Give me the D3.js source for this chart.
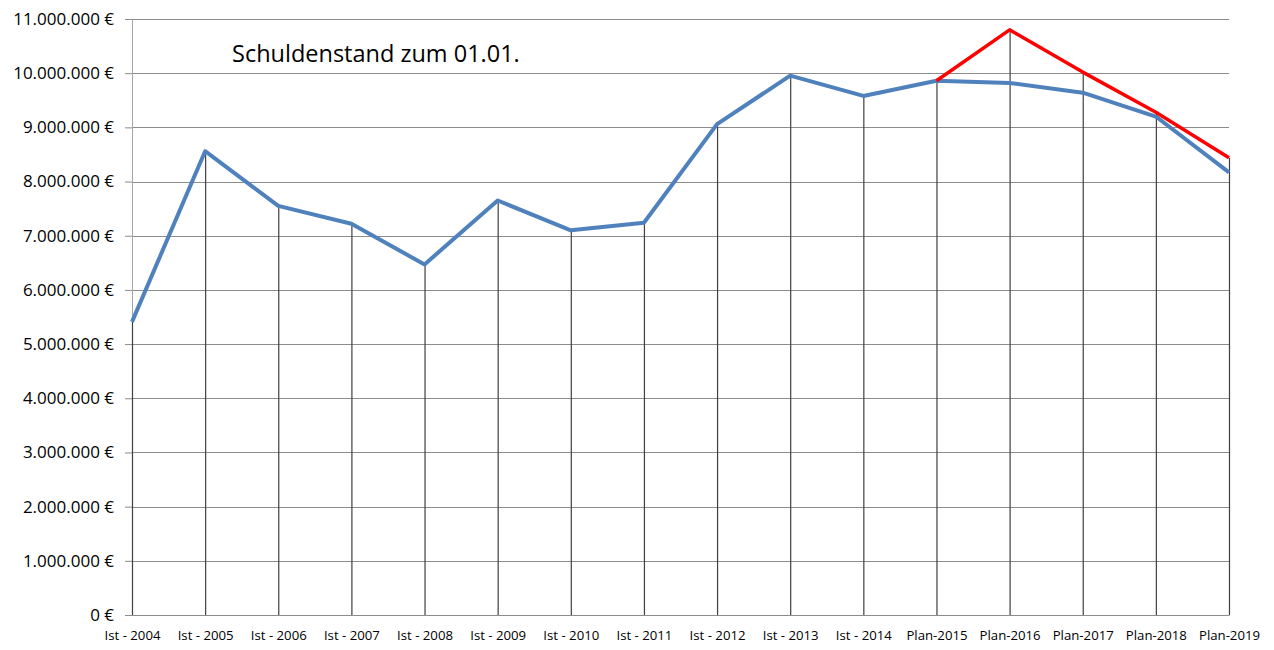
<!DOCTYPE html>
<html>
<head>
<meta charset="utf-8">
<script src="https://cdn.jsdelivr.net/npm/d3@7"></script>
<style>
  body { margin: 0; background: #fff; }
  svg { display: block; font-family: 'Open Sans', sans-serif; }
</style>
</head>
<body>
<script>
// chart data
const categories = ['Ist - 2004', 'Ist - 2005', 'Ist - 2006', 'Ist - 2007', 'Ist - 2008',
  'Ist - 2009', 'Ist - 2010', 'Ist - 2011', 'Ist - 2012', 'Ist - 2013', 'Ist - 2014',
  'Plan-2015', 'Plan-2016', 'Plan-2017', 'Plan-2018', 'Plan-2019'];
const istValues = [5410000, 8560000, 7550000, 7220000, 6470000, 7650000, 7100000, 7240000,
  9060000, 9955000, 9580000, 9860000, 9820000, 9640000, 9200000, 8170000];
// red plan line starts at Plan-2015
const planCategories = ['Plan-2015', 'Plan-2016', 'Plan-2017', 'Plan-2018', 'Plan-2019'];
const planValues = [9860000, 10800000, 10020000, 9280000, 8440000];
const yTicks = [0, 1000000, 2000000, 3000000, 4000000, 5000000, 6000000, 7000000,
  8000000, 9000000, 10000000, 11000000];
const title = 'Schuldenstand zum 01.01.';

const W = 1274;
const H = 650;
const margin = { top: 19, right: 45, bottom: 35, left: 132 };
const width = W - margin.left - margin.right;
const height = H - margin.top - margin.bottom;

const svg = d3.select('body').append('svg')
  .attr('width', W)
  .attr('height', H);

const g = svg.append('g')
  .attr('transform', `translate(${margin.left},${margin.top})`);

const x = d3.scalePoint().domain(categories).range([0, width]);
const y = d3.scaleLinear().domain([0, 11000000]).range([height, 0]);

// german number format with € sign
const de = d3.formatLocale({ decimal: ',', thousands: '.', grouping: [3], currency: ['', ' €'] });
const fmt = v => (v === 0 ? '0 €' : `${de.format(',')(v)} €`);

// horizontal gridlines
g.selectAll('.grid').data(yTicks).enter().append('line')
  .attr('class', 'grid')
  .attr('x1', 0)
  .attr('x2', width)
  .attr('y1', d => Math.round(y(d)) + 0.5)
  .attr('y2', d => Math.round(y(d)) + 0.5)
  .attr('stroke', '#8c8c8c')
  .attr('stroke-width', 1);

// y axis
const yAxis = d3.axisLeft(y).tickValues(yTicks).tickFormat(fmt).tickSize(7).tickPadding(11);
const gy = g.append('g').call(yAxis);
gy.select('.domain').attr('stroke', '#a6a6a6');
gy.selectAll('.tick line').attr('stroke', '#8c8c8c');
gy.selectAll('.tick text')
  .attr('fill', '#000')
  .style('font-size', '17px')
  .style('font-family', "'Open Sans', sans-serif");

// x axis
const xAxis = d3.axisBottom(x).tickSize(0).tickPadding(16);
const gx = g.append('g').attr('transform', `translate(0,${height})`).call(xAxis);
gx.select('.domain').attr('stroke', '#8c8c8c');
gx.selectAll('.tick text')
  .attr('fill', '#000')
  .style('font-size', '13.2px')
  .style('font-family', "'Open Sans', sans-serif");

// drop lines from the highest point down to the axis
const planMap = new Map(planCategories.map((c, i) => [c, planValues[i]]));
const dropData = categories.map((c, i) => ({
  key: c,
  value: Math.max(istValues[i], planMap.get(c) || 0),
}));
g.selectAll('.drop').data(dropData).enter().append('line')
  .attr('class', 'drop')
  .attr('x1', d => x(d.key) + 0.5)
  .attr('x2', d => x(d.key) + 0.5)
  .attr('y1', d => y(d.value))
  .attr('y2', height)
  .attr('stroke', '#404040')
  .attr('stroke-width', 1.2);

const line = d3.line().x(d => x(d.key)).y(d => y(d.value));

g.append('path')
  .datum(categories.map((c, i) => ({ key: c, value: istValues[i] })))
  .attr('d', line)
  .attr('fill', 'none')
  .attr('stroke', '#4f81bd')
  .attr('stroke-width', 4)
  .attr('stroke-linejoin', 'round');

g.append('path')
  .datum(planCategories.map((c, i) => ({ key: c, value: planValues[i] })))
  .attr('d', line)
  .attr('fill', 'none')
  .attr('stroke', '#ff0000')
  .attr('stroke-width', 3.5)
  .attr('stroke-linejoin', 'round');

// title
svg.append('text')
  .attr('x', 232)
  .attr('y', 62)
  .attr('fill', '#000')
  .style('font-size', '23.5px')
  .text(title);
</script>
</body>
</html>
